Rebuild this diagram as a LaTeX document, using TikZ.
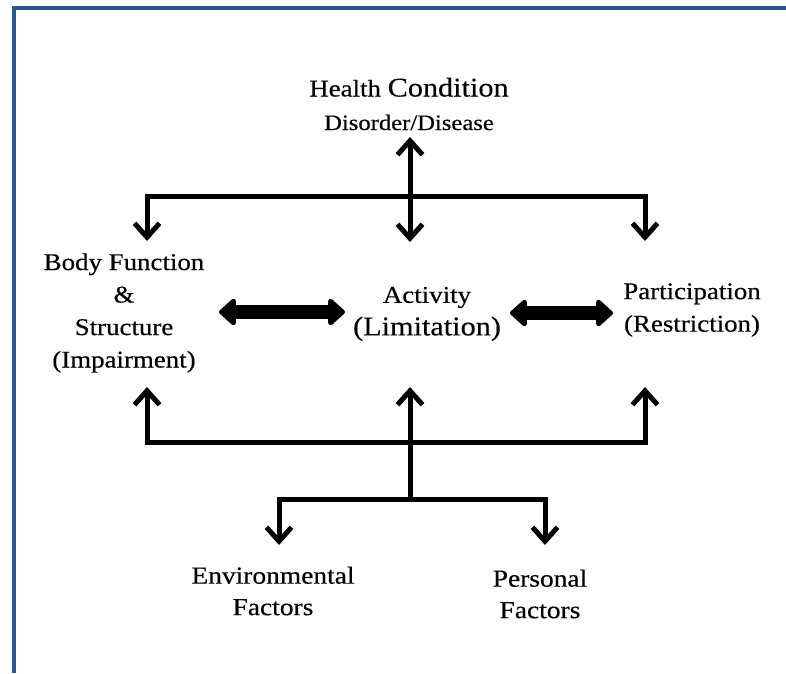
\documentclass[tikz,border=0pt]{standalone}
\usepackage{fontspec}
\setmainfont{Liberation Serif}[FakeStretch=1.12,FakeBold=0.4]
\usetikzlibrary{arrows.meta}
\definecolor{frameblue}{RGB}{44,86,142}
\tikzset{
  icfbarb/.tip={Straight Barb[length=14pt,width=25pt]},
  icffat/.tip={Triangle[length=18pt,width=31pt,round]},
}
\begin{document}
\begin{tikzpicture}[x=1pt,y=-1pt,
  lbl/.style={inner sep=0pt, align=center, font=\fontsize{24}{32.5}\selectfont},
  link/.style={line width=5pt, line join=miter, draw=black},
  fat/.style={line width=14pt, draw=black, arrows={icffat-icffat}},
  frame/.style={draw=frameblue, line width=4pt, line join=miter}
]
\useasboundingbox (0,0) rectangle (786,673);
% frame
\draw[frame] (14,673) -- (14,7.5) -- (786,7.5);

% labels
\node[lbl] (hc) at (409,104) {Health {\fontsize{27}{33}\selectfont Condition}\\[1pt]{\fontsize{22}{33}\selectfont Disorder/Disease}};
\node[lbl] (body) at (124,313) {Body Function\\ \&\\ Structure\\ (Impairment)};
\node[lbl] (act) at (427,314) {Activity\\ {\fontsize{27}{34}\selectfont (Limitation)}};
\node[lbl] (part) at (692,310) {Participation\\ (Restriction)};
\node[lbl, font=\fontsize{24.5}{31.5}\selectfont] (env) at (273,591) {Environmental\\ Factors};
\node[lbl, font=\fontsize{24.5}{31.5}\selectfont] (pers) at (540,594) {Personal\\ Factors};

% junction coordinates
\coordinate (hcTip) at (410,137);
\coordinate (actTopTip) at (410,242);
\coordinate (topL) at (147,196);
\coordinate (topR) at (645,196);
\coordinate (bodyTopTip) at (147,241);
\coordinate (partTopTip) at (645,241);
\coordinate (bodyBotTip) at (147,387);
\coordinate (actBotTip) at (410,387);
\coordinate (partBotTip) at (645,387);
\coordinate (botL) at (147,442);
\coordinate (botR) at (645,442);
\coordinate (stem) at (410,499);
\coordinate (facL) at (279,499);
\coordinate (facR) at (545,499);
\coordinate (envTip) at (279,545);
\coordinate (persTip) at (545,545);
\coordinate (fat1a) at (219,312);
\coordinate (fat1b) at (345,312);
\coordinate (fat2a) at (510,313);
\coordinate (fat2b) at (613,313);

% connectors
\draw[link, arrows={icfbarb-icfbarb}] (hcTip) -- (actTopTip);
\draw[link, arrows={icfbarb-icfbarb}] (bodyTopTip) -- (topL) -- (topR) -- (partTopTip);
\draw[link, arrows={icfbarb-icfbarb}] (bodyBotTip) -- (botL) -- (botR) -- (partBotTip);
\draw[link, arrows={icfbarb-}] (actBotTip) -- (stem);
\draw[link, arrows={icfbarb-icfbarb}] (envTip) -- (facL) -- (facR) -- (persTip);

\draw[fat] (fat1a) -- (fat1b);
\draw[fat] (fat2a) -- (fat2b);
\end{tikzpicture}
\end{document}
